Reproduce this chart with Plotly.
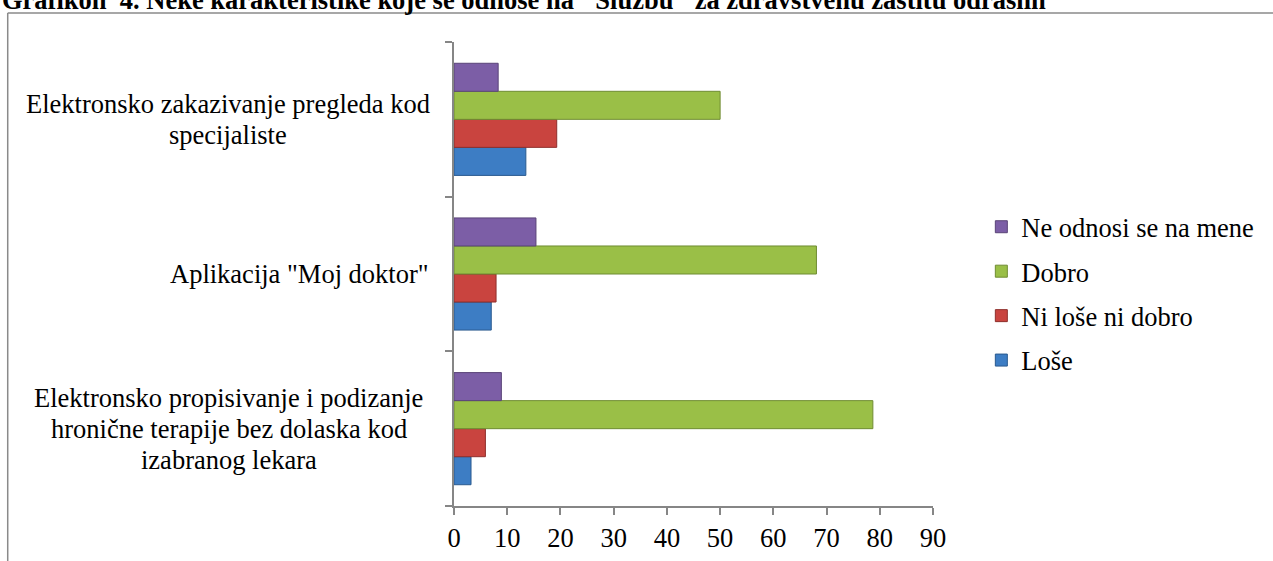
import plotly.graph_objects as go

# Survey answers (percent of respondents) per service feature
categories = [
    "Elektronsko propisivanje i podizanje<br>hronične terapije bez dolaska kod<br>izabranog lekara",
    "Aplikacija \"Moj doktor\"",
    "Elektronsko zakazivanje pregleda kod<br>specijaliste",
]
lose = [3.2, 7.0, 13.5]
ni_lose_ni_dobro = [5.9, 7.9, 19.3]
dobro = [78.7, 68.1, 50.0]
ne_odnosi = [8.9, 15.4, 8.3]

series_names = ["Loše", "Ni loše ni dobro", "Dobro", "Ne odnosi se na mene"]
series_values = [lose, ni_lose_ni_dobro, dobro, ne_odnosi]
fill_colors = ["#3d7dc4", "#c9443f", "#9abf47", "#7c5ea6"]
edge_colors = ["#2a5a8f", "#8e2f2c", "#6f8c32", "#5a4478"]

x_ticks = [0, 10, 20, 30, 40, 50, 60, 70, 80, 90]

TITLE = "Grafikon  4. Neke karakteristike koje se odnose na \"Službu\" za zdravstvenu zaštitu odraslih"

W, H = 1273, 561
PLOT_L, PLOT_R, PLOT_T, PLOT_B = 454, 932.7, 42, 506
FONT = "Liberation Serif, Times New Roman, serif"
FS = 26.5
LINE_PITCH = 31                      # px between lines of a category label
LABEL_CENTER_PX = [229, 300, 228]    # horizontal centre of each label block

fig = go.Figure()
for i, (name, vals) in enumerate(zip(series_names, series_values)):
    fig.add_trace(go.Bar(
        y=categories,
        x=vals,
        name=name,
        orientation="h",
        legendgroup=name,
        legendrank=len(series_names) - i,
        marker=dict(color=fill_colors[i], line=dict(color=edge_colors[i], width=1)),
    ))

def px_to_paper_x(px):
    return (px - PLOT_L) / (PLOT_R - PLOT_L)

def px_to_paper_y(py):
    return (PLOT_B - py) / (PLOT_B - PLOT_T)

# Category labels: one centred annotation per line, tightly spaced
annotations = []
for cat, cx in zip(categories, LABEL_CENTER_PX):
    lines = cat.split("<br>")
    n = len(lines)
    for j, line in enumerate(lines):
        annotations.append(dict(
            x=px_to_paper_x(cx), xref="paper", xanchor="center",
            y=cat, yref="y", yanchor="middle",
            yshift=((n - 1) / 2 - j) * LINE_PITCH,
            text=line, showarrow=False, align="center",
            font=dict(family=FONT, size=FS, color="#000000"),
        ))

# Heading above the chart frame
annotations.append(dict(
    x=px_to_paper_x(0), xref="paper", xanchor="left",
    y=px_to_paper_y(17), yref="paper", yanchor="bottom",
    text="<b>" + TITLE + "</b>", showarrow=False,
    font=dict(family=FONT, size=FS, color="#000000"),
))

# Chart frame (top and left edges)
shapes = [
    dict(type="line", xref="paper", yref="paper",
         x0=px_to_paper_x(8), x1=px_to_paper_x(1280),
         y0=px_to_paper_y(13), y1=px_to_paper_y(13),
         line=dict(color="#8a8a8a", width=1.5)),
    dict(type="line", xref="paper", yref="paper",
         x0=px_to_paper_x(8), x1=px_to_paper_x(8),
         y0=px_to_paper_y(13), y1=px_to_paper_y(600),
         line=dict(color="#8a8a8a", width=1.5)),
]

fig.update_layout(
    width=W, height=H,
    margin=dict(l=PLOT_L, r=W - PLOT_R, t=PLOT_T, b=H - PLOT_B, autoexpand=False),
    paper_bgcolor="white", plot_bgcolor="white",
    barmode="group", bargap=0.275, bargroupgap=0.0,
    font=dict(family=FONT, size=FS, color="#000000"),
    showlegend=True,
    legend=dict(
        traceorder="grouped",
        tracegroupgap=7,
        x=px_to_paper_x(981), xanchor="left",
        y=px_to_paper_y(203), yanchor="top",
        font=dict(family=FONT, size=FS, color="#000000"),
        bgcolor="rgba(0,0,0,0)",
        itemwidth=30,
    ),
    annotations=annotations,
    shapes=shapes,
    xaxis=dict(
        range=[0, 90], tickvals=x_ticks, ticktext=[str(t) for t in x_ticks],
        showgrid=False, zeroline=False,
        showline=True, linecolor="#868686", linewidth=2,
        ticks="outside", ticklen=7, tickcolor="#868686", tickwidth=2,
        tickfont=dict(family=FONT, size=FS, color="#000000"),
        fixedrange=True,
    ),
    yaxis=dict(
        showgrid=False, zeroline=False,
        showline=True, linecolor="#868686", linewidth=2,
        ticks="outside", ticklen=7, tickcolor="#868686", tickwidth=2,
        tickson="boundaries",
        showticklabels=False,
        fixedrange=True,
    ),
)

fig.write_html("out.html", config={"displayModeBar": False})
